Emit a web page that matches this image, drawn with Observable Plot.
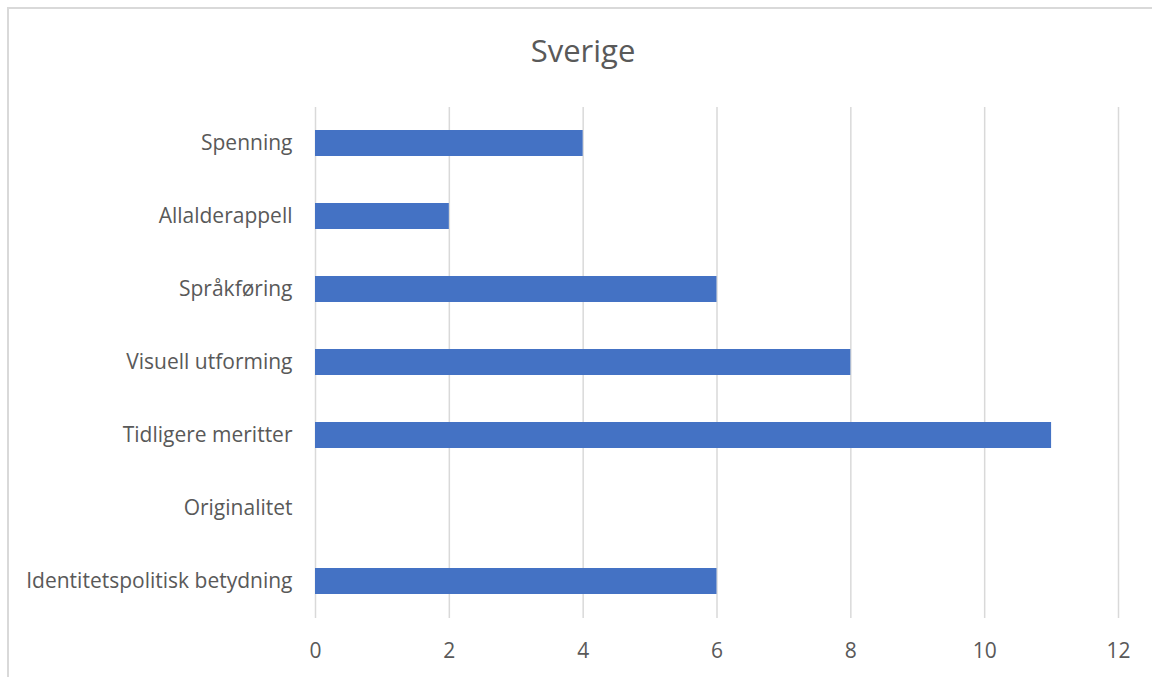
<!DOCTYPE html>
<html>
<head>
<meta charset="utf-8">
<script src="https://cdn.jsdelivr.net/npm/d3@7"></script>
<script src="https://cdn.jsdelivr.net/npm/@observablehq/plot@0.6"></script>
<style>
  html, body { margin: 0; padding: 0; background: #fff; }
  #wrap { position: relative; width: 1152px; height: 677px; overflow: hidden; font-family: "Open Sans", sans-serif; }
  #frame { position: absolute; left: 7px; top: 7px; width: 1170px; height: 700px; border: 2px solid #d9d9d9; box-sizing: border-box; }
  #title { position: absolute; left: 0; top: 29px; width: 1166px; text-align: center; font-size: 31px; color: #595959; }
  #chart { position: absolute; left: 0; top: 0; }
</style>
</head>
<body>
<div id="wrap">
  <div id="frame"></div>
  <div id="title">Sverige</div>
  <div id="chart"></div>
</div>
<script>
// Categories, top to bottom
const categories = [
  "Spenning",
  "Allalderappell",
  "Språkføring",
  "Visuell utforming",
  "Tidligere meritter",
  "Originalitet",
  "Identitetspolitisk betydning"
];
// Counts per category
const values = [4, 2, 6, 8, 11, 0, 6];
// Value axis ticks
const xTicks = [0, 2, 4, 6, 8, 10, 12];

const data = categories.map((c, i) => ({category: c, value: values[i]}));

const chart = Plot.plot({
  width: 1152,
  height: 677,
  marginTop: 107,
  marginBottom: 59,
  marginLeft: 315,
  marginRight: 34,
  style: {fontFamily: "Open Sans, sans-serif", fontSize: "21px", color: "#595959", background: "transparent"},
  x: {domain: [0, 12], ticks: xTicks, label: null},
  y: {domain: categories, paddingInner: 0.64, paddingOuter: 0.32, label: null},
  marks: [
    Plot.gridX(xTicks, {stroke: "#d9d9d9", strokeOpacity: 1, strokeWidth: 1.5}),
    Plot.barX(data, {x: "value", y: "category", fill: "#4472c4"}),
    Plot.axisX({ticks: xTicks, tickSize: 0, tickPadding: 25, fontSize: 21, fill: "#595959"}),
    Plot.axisY({tickSize: 0, tickPadding: 23, fontSize: 21, fill: "#595959"})
  ]
});
document.getElementById("chart").appendChild(chart);
</script>
</body>
</html>
